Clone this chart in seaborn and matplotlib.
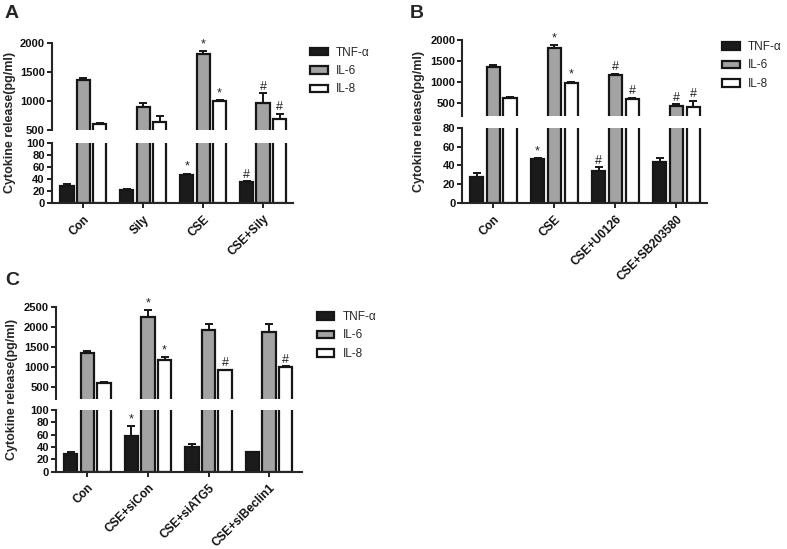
import numpy as np
import pandas as pd
import matplotlib
matplotlib.use("Agg")
import matplotlib.pyplot as plt
from matplotlib.container import BarContainer
import seaborn as sns

# ---------------- data ----------------
cytokines = ["TNF-α", "IL-6", "IL-8"]

A_groups = ["Con", "Sily", "CSE", "CSE+Sily"]
A_tnf = [28, 22, 47, 34]
A_tnf_err = [4, 1, 1.5, 1.5]
A_il6 = [1355, 890, 1805, 970]
A_il6_err = [40, 70, 55, 160]
A_il8 = [600, 632, 990, 685]
A_il8_err = [27, 108, 25, 90]
A_tnf_sig = ["", "", "*", "#"]
A_il6_sig = ["", "", "*", "#"]
A_il8_sig = ["", "", "*", "#"]

B_groups = ["Con", "CSE", "CSE+U0126", "CSE+SB203580"]
B_tnf = [28, 47, 33.5, 43.5]
B_tnf_err = [4, 1, 4.5, 4.5]
B_il6 = [1355, 1810, 1165, 436]
B_il6_err = [40, 70, 35, 35]
B_il8 = [615, 985, 590, 412]
B_il8_err = [35, 25, 25, 135]
B_tnf_sig = ["", "*", "#", ""]
B_il6_sig = ["", "*", "#", "#"]
B_il8_sig = ["", "*", "#", "#"]

C_groups = ["Con", "CSE+siCon", "CSE+siATG5", "CSE+siBeclin1"]
C_tnf = [28, 57, 40, 31]
C_tnf_err = [4, 17, 5, 0.5]
C_il6 = [1355, 2260, 1920, 1870]
C_il6_err = [40, 170, 160, 210]
C_il8 = [600, 1170, 920, 1000]
C_il8_err = [30, 80, 10, 15]
C_tnf_sig = ["", "*", "", ""]
C_il6_sig = ["", "*", "", ""]
C_il8_sig = ["", "*", "#", "#"]

# ---------------- style ----------------
sns.set_style("ticks")
plt.rcParams["font.family"] = ["Liberation Sans", "DejaVu Sans"]
plt.rcParams["axes.linewidth"] = 1.5

colors = ["#1b1b1b", "#a3a3a3", "#ffffff"]
EDGE = "#161616"

W, H = 787, 549
fig = plt.figure(figsize=(W / 100, H / 100), dpi=100)


def rect(l, r, t, b):
    return [l / W, 1 - b / H, (r - l) / W, (b - t) / H]


def style_ticks(ax):
    ax.tick_params(axis="y", direction="out", length=3.5, width=1.3,
                   labelsize=8, pad=1.5, colors="#111111")
    ax.tick_params(axis="x", direction="out", length=3.5, width=1.3,
                   labelsize=8.5, pad=4, colors="#111111")
    for lbl in ax.get_yticklabels() + ax.get_xticklabels():
        lbl.set_fontweight("bold")


def panel(letter, groups, vals, errs, sigs, lr, up_tb, lo_tb, up_lim, up_ticks,
          lo_lim, lo_ticks, xlim, legend_xy, letter_xy, ylabel_x):
    rows = []
    for c, v in zip(cytokines, vals):
        for g, x in zip(groups, v):
            rows.append((g, c, x))
    df = pd.DataFrame(rows, columns=["group", "cytokine", "value"])

    ax_u = fig.add_axes(rect(lr[0], lr[1], up_tb[0], up_tb[1]))
    ax_l = fig.add_axes(rect(lr[0], lr[1], lo_tb[0], lo_tb[1]))
    xs_all = []
    for ax in (ax_u, ax_l):
        sns.barplot(data=df, x="group", y="value", hue="cytokine", order=groups,
                    hue_order=cytokines, palette=colors, saturation=1,
                    edgecolor=EDGE, linewidth=1.6, width=0.825, gap=0.2,
                    errorbar=None, ax=ax, legend=(ax is ax_l))
        bar_conts = [c for c in ax.containers if isinstance(c, BarContainer)]
        xs_all = []
        for k, cont in enumerate(bar_conts):
            xs = [p.get_x() + p.get_width() / 2 for p in cont]
            xs_all.append(xs)
            ax.errorbar(xs, vals[k], yerr=[np.zeros(len(xs)), errs[k]], fmt="none",
                        ecolor=EDGE, elinewidth=1.4, capsize=3, capthick=1.4, zorder=1)
        ax.set_xlim(*xlim)
        ax.set_xlabel("")
        ax.set_ylabel("")
        sns.despine(ax=ax)

    # significance marks
    for k in range(3):
        for i, s in enumerate(sigs[k]):
            if not s:
                continue
            top = vals[k][i] + errs[k][i]
            target = ax_l if top <= lo_lim[1] else ax_u
            target.annotate(s, (xs_all[k][i], top), xytext=(0, 0.5),
                            textcoords="offset points", ha="center", va="bottom",
                            fontsize=9, color="#222222")

    ax_u.set_ylim(*up_lim)
    ax_u.set_yticks(up_ticks)
    ax_u.set_xticks([])
    ax_u.spines["bottom"].set_visible(False)
    ax_l.set_ylim(*lo_lim)
    ax_l.set_yticks(lo_ticks)
    ax_l.set_xticks(range(len(groups)))
    ax_l.set_xticklabels(groups, rotation=45, ha="right", rotation_mode="anchor")
    style_ticks(ax_u)
    style_ticks(ax_l)

    handles, labels = ax_l.get_legend_handles_labels()
    if ax_l.get_legend() is not None:
        ax_l.get_legend().remove()
    fig.legend(handles, labels, loc="upper left",
               bbox_to_anchor=(legend_xy[0] / W, 1 - legend_xy[1] / H),
               frameon=False, fontsize=8.5, handlelength=1.5, handleheight=0.6,
               handletextpad=0.7, labelspacing=0.55, borderpad=0, borderaxespad=0)

    fig.text(letter_xy[0] / W, 1 - letter_xy[1] / H, letter, fontsize=14,
             fontweight="bold", va="top", ha="left")
    yc = (up_tb[0] + lo_tb[1]) / 2
    fig.text(ylabel_x / W, 1 - yc / H, "Cytokine release(pg/ml)", rotation=90,
             va="center", ha="center", fontsize=9, fontweight="bold")


panel("A", A_groups, [A_tnf, A_il6, A_il8], [A_tnf_err, A_il6_err, A_il8_err],
      [A_tnf_sig, A_il6_sig, A_il8_sig],
      lr=(51.7, 293), up_tb=(42.7, 130), lo_tb=(142.7, 202.7),
      up_lim=(500, 2000), up_ticks=[500, 1000, 1500, 2000],
      lo_lim=(0, 100), lo_ticks=[0, 20, 40, 60, 80, 100],
      xlim=(-0.53, 3.5), legend_xy=(310, 46.5), letter_xy=(5, 5), ylabel_x=10)

panel("B", B_groups, [B_tnf, B_il6, B_il8], [B_tnf_err, B_il6_err, B_il8_err],
      [B_tnf_sig, B_il6_sig, B_il8_sig],
      lr=(462.3, 707), up_tb=(40, 115.6), lo_tb=(127.7, 203),
      up_lim=(200, 2000), up_ticks=[500, 1000, 1500, 2000],
      lo_lim=(0, 80), lo_ticks=[0, 20, 40, 60, 80],
      xlim=(-0.51, 3.5), legend_xy=(722, 41), letter_xy=(410, 5), ylabel_x=419)

panel("C", C_groups, [C_tnf, C_il6, C_il8], [C_tnf_err, C_il6_err, C_il8_err],
      [C_tnf_sig, C_il6_sig, C_il8_sig],
      lr=(56, 301.7), up_tb=(307, 398.7), lo_tb=(410, 471.5),
      up_lim=(200, 2500), up_ticks=[500, 1000, 1500, 2000, 2500],
      lo_lim=(0, 100), lo_ticks=[0, 20, 40, 60, 80, 100],
      xlim=(-0.52, 3.54), legend_xy=(316.7, 311), letter_xy=(5, 272), ylabel_x=12)

fig.savefig("out.png", dpi=100, facecolor="white")
